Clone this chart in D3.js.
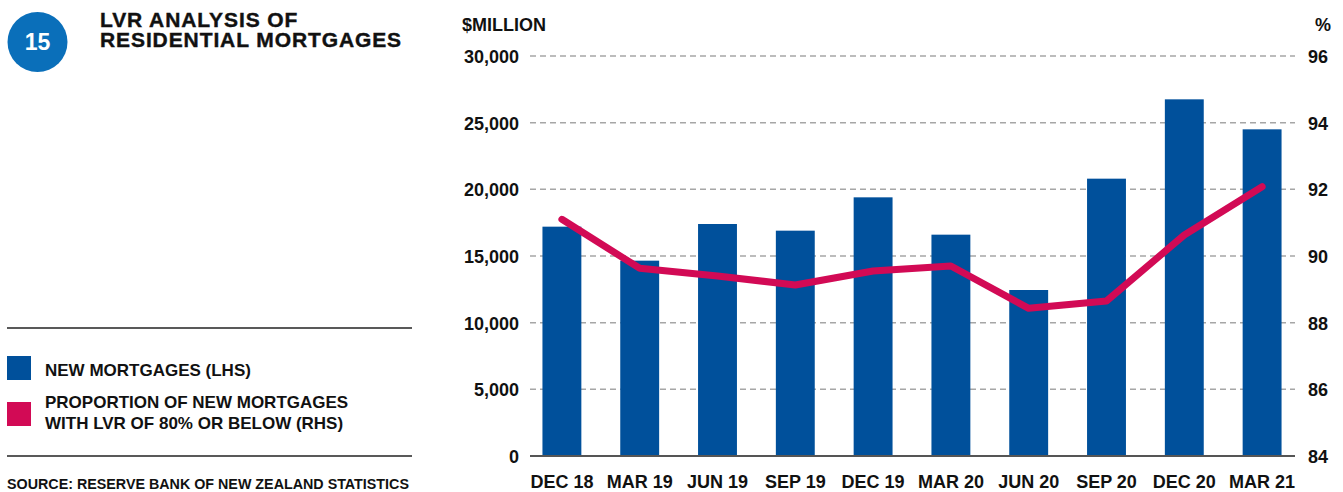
<!DOCTYPE html>
<html>
<head>
<meta charset="utf-8">
<script src="https://cdn.jsdelivr.net/npm/d3@7"></script>
<style>
  body { margin: 0; background: #fff; }
  svg text { font-family: "Liberation Sans", Arial, sans-serif; font-weight: bold; fill: #111; }
</style>
</head>
<body>
<svg id="chart" width="1343" height="492"></svg>
<script>
// quarters on the x axis
const quarters = ['DEC 18', 'MAR 19', 'JUN 19', 'SEP 19', 'DEC 19', 'MAR 20', 'JUN 20', 'SEP 20', 'DEC 20', 'MAR 21'];
// new mortgages, $million (LHS)
const newMortgages = [17200, 14650, 17400, 16900, 19400, 16600, 12450, 20800, 26750, 24500];
// share of new mortgages with LVR <= 80%, % (RHS)
const lvrShare = [91.1, 89.63, 89.4, 89.13, 89.55, 89.7, 88.43, 88.65, 90.63, 92.08];
const leftTicks = [0, 5000, 10000, 15000, 20000, 25000, 30000];
const rightTicks = [84, 86, 88, 90, 92, 94, 96];

const color_bar = '#00509b';
const color_line = '#d20a55';
const color_badge = '#0a6fba';

const svg = d3.select('#chart');
const plot = { left: 530, right: 1295, top: 56, bottom: 456 };

const x = d3.scaleBand()
  .domain(quarters)
  .range([523, 1301])
  .paddingInner(0.5)
  .paddingOuter(0.25);
const y = d3.scaleLinear().domain([0, 30000]).range([plot.bottom, plot.top]);
const y2 = d3.scaleLinear().domain([84, 96]).range([plot.bottom, plot.top]);

// dashed gridlines
svg.append('g')
  .attr('class', 'grid')
  .selectAll('line')
  .data(leftTicks.filter(d => d > 0))
  .enter()
  .append('line')
  .attr('x1', plot.left)
  .attr('x2', plot.right)
  .attr('y1', d => y(d))
  .attr('y2', d => y(d))
  .style('stroke', '#a6a6a6')
  .style('stroke-width', 1.5)
  .style('stroke-dasharray', '6,4');

// bars
svg.append('g')
  .selectAll('rect')
  .data(newMortgages)
  .enter()
  .append('rect')
  .attr('x', (d, i) => x(quarters[i]))
  .attr('width', x.bandwidth())
  .attr('y', d => y(d))
  .attr('height', d => y(0) - y(d))
  .style('fill', color_bar);

// baseline
svg.append('line')
  .attr('x1', plot.left)
  .attr('x2', plot.right)
  .attr('y1', y(0))
  .attr('y2', y(0))
  .style('stroke', '#555')
  .style('stroke-width', 2);

// LVR line
const line = d3.line()
  .x((d, i) => x(quarters[i]) + x.bandwidth() / 2)
  .y(d => y2(d));
svg.append('path')
  .datum(lvrShare)
  .attr('d', line)
  .style('fill', 'none')
  .style('stroke', color_line)
  .style('stroke-width', 7)
  .style('stroke-linecap', 'round')
  .style('stroke-linejoin', 'round');

function styleTicks(sel) {
  sel.selectAll('text')
    .style('font-size', '18px')
    .style('font-family', '"Liberation Sans", Arial, sans-serif')
    .style('font-weight', 'bold')
    .style('fill', '#111');
}

// left axis
const axisL = svg.append('g')
  .attr('transform', `translate(${plot.left - 11},0)`)
  .call(d3.axisLeft(y).tickValues(leftTicks).tickFormat(d3.format(',')).tickSize(0).tickPadding(0));
axisL.select('.domain').remove();
axisL.selectAll('text').attr('dy', '0.36em');
styleTicks(axisL);

// right axis
const axisR = svg.append('g')
  .attr('transform', `translate(${plot.right + 13},0)`)
  .call(d3.axisRight(y2).tickValues(rightTicks).tickSize(0).tickPadding(0));
axisR.select('.domain').remove();
axisR.selectAll('text').attr('dy', '0.36em');
styleTicks(axisR);

// x axis labels
const axisX = svg.append('g')
  .attr('transform', `translate(0,${plot.bottom})`)
  .call(d3.axisBottom(x).tickSize(0).tickPadding(0));
axisX.select('.domain').remove();
axisX.selectAll('text').attr('y', 32).attr('dy', 0);
styleTicks(axisX);

// axis titles
svg.append('text').attr('x', 462).attr('y', 31).style('font-size', '18px').text('$MILLION');
svg.append('text').attr('x', 1331).attr('y', 31).attr('text-anchor', 'end').style('font-size', '18px').text('%');

// title block
svg.append('circle').attr('cx', 37.5).attr('cy', 42).attr('r', 30).style('fill', color_badge);
svg.append('text')
  .attr('x', 37.5).attr('y', 50)
  .attr('text-anchor', 'middle')
  .style('font-size', '23px')
  .style('fill', '#fff')
  .text('15');
const title = svg.append('g')
  .style('font-size', '21px')
  .style('letter-spacing', '0.9px')
  .style('stroke', '#111')
  .style('stroke-width', 0.4);
title.append('text').attr('x', 100).attr('y', 27).text('LVR ANALYSIS OF');
title.append('text').attr('x', 100).attr('y', 47).text('RESIDENTIAL MORTGAGES');

// legend
svg.append('line').attr('x1', 7).attr('x2', 412).attr('y1', 328).attr('y2', 328).style('stroke', '#222').style('stroke-width', 1.5);
svg.append('line').attr('x1', 7).attr('x2', 412).attr('y1', 456).attr('y2', 456).style('stroke', '#222').style('stroke-width', 1.5);
svg.append('rect').attr('x', 7).attr('y', 356).attr('width', 24).attr('height', 24).style('fill', color_bar);
svg.append('rect').attr('x', 7).attr('y', 402).attr('width', 24).attr('height', 24).style('fill', color_line);
svg.append('text').attr('x', 45).attr('y', 376).style('font-size', '17px').text('NEW MORTGAGES (LHS)');
svg.append('text').attr('x', 45).attr('y', 408).style('font-size', '17px').text('PROPORTION OF NEW MORTGAGES');
svg.append('text').attr('x', 45).attr('y', 429).style('font-size', '17px').text('WITH LVR OF 80% OR BELOW (RHS)');
svg.append('text').attr('x', 7).attr('y', 489).style('font-size', '14.3px').text('SOURCE: RESERVE BANK OF NEW ZEALAND STATISTICS');
</script>
</body>
</html>
